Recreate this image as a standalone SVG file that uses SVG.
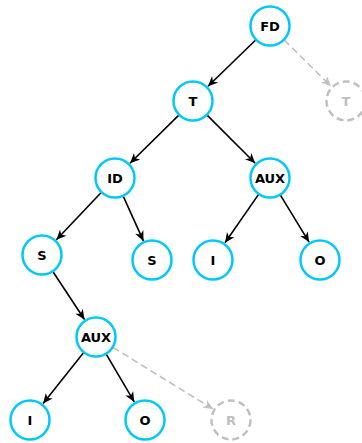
<svg xmlns="http://www.w3.org/2000/svg" width="362" height="443" viewBox="0 0 362 443">
<style>
.n circle{fill:#fff;stroke:#00c8ff;stroke-width:2.5}
.g circle{fill:#fff;stroke:#c0c0c0;stroke-width:2.5;stroke-dasharray:7 4}
text{font-family:"DejaVu Sans",sans-serif;font-weight:bold;font-size:13px;text-anchor:middle;dominant-baseline:central}
.n text{fill:#000}
.g text{fill:#c0c0c0}
.e{stroke:#000;stroke-width:1.6;fill:none;marker-end:url(#a)}
.d{stroke:#c0c0c0;stroke-width:1.6;fill:none;stroke-dasharray:7 4;marker-end:url(#ag)}
</style>
<defs>
<marker id="a" markerUnits="userSpaceOnUse" markerWidth="12" markerHeight="12" viewBox="0 0 12 12" refX="11" refY="6" orient="auto"><path d="M1,1.5 L11,6 L1,10.5 L4,6 Z" fill="#000"/></marker>
<marker id="ag" markerUnits="userSpaceOnUse" markerWidth="12" markerHeight="12" viewBox="0 0 12 12" refX="11" refY="6" orient="auto"><path d="M1,1.5 L11,6 L1,10.5 L4,6 Z" fill="#c0c0c0"/></marker>
</defs>
<g id="edges">
<line class="e" x1="255.7" y1="40" x2="208" y2="86.3"/>
<line class="d" x1="284.2" y1="40" x2="331" y2="86.3"/>
<line class="e" x1="178.8" y1="115.1" x2="130" y2="163.2"/>
<line class="e" x1="207.1" y1="115.1" x2="255.2" y2="163.2"/>
<line class="e" x1="101.2" y1="192.5" x2="56.4" y2="239.8"/>
<line class="e" x1="123.2" y1="196.2" x2="143.4" y2="240.9"/>
<line class="e" x1="258.6" y1="194.4" x2="225" y2="242.8"/>
<line class="e" x1="280.4" y1="195.1" x2="309.1" y2="242.1"/>
<line class="e" x1="53" y1="271.7" x2="84.5" y2="319.5"/>
<line class="e" x1="83.5" y1="352.7" x2="43.1" y2="403.6"/>
<line class="e" x1="106.2" y1="354.2" x2="134.3" y2="401.9"/>
<line class="d" x1="113" y1="347.5" x2="213.1" y2="409"/>
</g>
<g id="fd" class="n"><circle cx="270" cy="26" r="19.5"/><text x="270" y="26">FD</text></g>
<g id="t" class="n"><circle cx="193" cy="101" r="19.5"/><text x="193" y="101">T</text></g>
<g id="t2" class="g"><circle cx="346" cy="101" r="19.5"/><text x="346" y="101">T</text></g>
<g id="id" class="n"><circle cx="115" cy="178" r="19.5"/><text x="115" y="178">ID</text></g>
<g id="aux1" class="n"><circle cx="270" cy="178" r="19.5"/><text x="270" y="178">AUX</text></g>
<g id="s1" class="n"><circle cx="42" cy="255" r="19.5"/><text x="42" y="255">S</text></g>
<g id="s2" class="n"><circle cx="152" cy="260" r="19.5"/><text x="152" y="260">S</text></g>
<g id="i1" class="n"><circle cx="213" cy="260" r="19.5"/><text x="213" y="260">I</text></g>
<g id="o1" class="n"><circle cx="320" cy="260" r="19.5"/><text x="320" y="260">O</text></g>
<g id="aux2" class="n"><circle cx="96" cy="337" r="19.5"/><text x="96" y="337">AUX</text></g>
<g id="i2" class="n"><circle cx="30" cy="420" r="19.5"/><text x="30" y="420">I</text></g>
<g id="o2" class="n"><circle cx="145" cy="420" r="19.5"/><text x="145" y="420">O</text></g>
<g id="r" class="g"><circle cx="231" cy="420" r="19.5"/><text x="231" y="420">R</text></g>
</svg>
